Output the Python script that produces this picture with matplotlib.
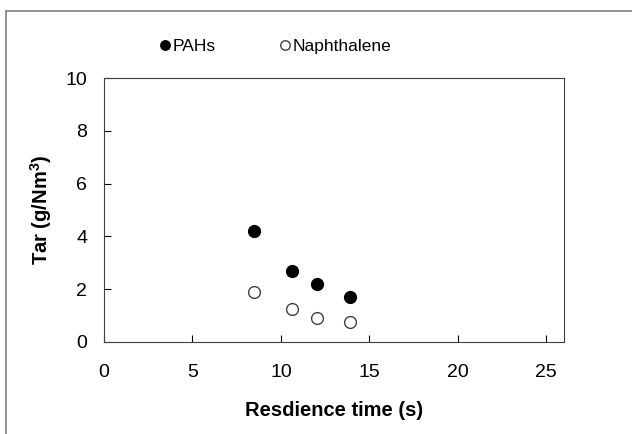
import matplotlib
matplotlib.use("Agg")
import matplotlib.pyplot as plt
from matplotlib.patches import Rectangle

plt.rcParams['font.family'] = ['Liberation Sans', 'DejaVu Sans']
plt.rcParams['mathtext.fontset'] = 'custom'
plt.rcParams['mathtext.rm'] = 'Liberation Sans'
plt.rcParams['mathtext.bf'] = 'Liberation Sans:bold'

time_s = [8.5, 10.6, 12.05, 13.9]
pahs = [4.2, 2.7, 2.2, 1.72]
naphthalene = [1.88, 1.25, 0.91, 0.75]

x_ticks = [0, 5, 10, 15, 20, 25]
y_ticks = [0, 2, 4, 6, 8, 10]

fig = plt.figure(figsize=(6.32, 4.34), dpi=100)
ax = fig.add_axes([0.1646, 0.212, 0.7278, 0.608])

# outer chart-area frame
fig.patches.append(Rectangle((6 / 632, -0.05), 1.0, 1 - 11 / 434 + 0.05,
                             transform=fig.transFigure, fill=False,
                             edgecolor='#7f7f7f', linewidth=1.2))

ax.plot(time_s, pahs, 'o', color='black', markersize=8.5, label='PAHs')
ax.plot(time_s, naphthalene, 'o', markerfacecolor='white',
        markeredgecolor='#404040', markeredgewidth=1.0, markersize=8.5,
        label='Naphthalene')

ax.set_xlim(0, 26)
ax.set_ylim(0, 10)
ax.set_xticks(x_ticks)
ax.set_yticks(y_ticks)
ax.tick_params(direction='in', length=5, labelsize=14, width=0.8)
ax.tick_params(axis='x', pad=16)
ax.tick_params(axis='y', pad=12)
for s in ax.spines.values():
    s.set_linewidth(0.8)
    s.set_color('#404040')

ax.set_xlabel('Resdience time (s)', fontsize=14.5, fontweight='bold', labelpad=14)
ax.set_ylabel(r'Tar (g/Nm$^{\mathbf{3}}$)', fontsize=14.5, fontweight='bold', labelpad=8)

ax.legend(loc='center left', bbox_to_anchor=(0.083, 1.121), ncol=2, frameon=False,
          fontsize=12.5, handlelength=0.8, handletextpad=0.05, columnspacing=3.6,
          markerscale=0.8)

fig.savefig('out.png', dpi=100)
